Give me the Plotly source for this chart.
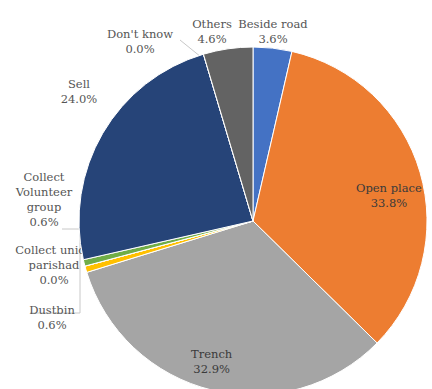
import plotly.graph_objects as go

# Waste disposal practice shares (%)
categories = ["Beside road", "Open place", "Trench", "Dustbin",
              "Collect union parishad", "Collect Volunteer group",
              "Sell", "Don't know", "Others"]
shares = [3.6, 33.8, 32.9, 0.6, 0.0, 0.6, 24.0, 0.0, 4.6]
label_names = ["Beside road", "Open place", "Trench", "Dustbin",
               "Collect union<br>parishad", "Collect<br>Volunteer<br>group",
               "Sell", "Don't know", "Others"]
slice_colors = ["#4472C4", "#ED7D31", "#A5A5A5", "#FFC000", "#5B9BD5",
                "#70AD47", "#264478", "#9E480E", "#636363"]

# Page geometry (pixels)
W, H = 432, 395
CX, CY, R = 253, 221, 174

# Label anchor points (pixel coordinates, centre of each text block)
label_pos = {
    "Beside road": (273, 33),
    "Open place": (389, 195),
    "Trench": (212, 361),
    "Dustbin": (52, 319),
    "Collect union parishad": (54, 266),
    "Collect Volunteer group": (44, 201),
    "Sell": (79, 93),
    "Don't know": (140, 43),
    "Others": (212, 33),
}
inside_labels = {"Open place", "Trench"}

FONT = "DejaVu Serif"
OUT_COLOR = "#555555"
IN_COLOR = "#3a3a3a"
FS = 11.5

fig = go.Figure()

# Leader lines (drawn beneath the pie)
leaders = [
    [(180, 40), (201, 57)],
    [(62, 229), (80, 229), (80, 313), (30, 313)],
]
for seg in leaders:
    fig.add_trace(go.Scatter(
        x=[p[0] for p in seg], y=[p[1] for p in seg], mode="lines",
        line=dict(color="#c8c8c8", width=1), hoverinfo="skip",
        xaxis="x", yaxis="y"))

# Outside labels sit under the pie layer so the pie overlaps them
for name, text, val in zip(categories, label_names, shares):
    if name in inside_labels:
        continue
    x, y = label_pos[name]
    fig.add_trace(go.Scatter(
        x=[x], y=[y], mode="text", text=[f"{text}<br>{val:.1f}%"],
        textposition="middle center",
        textfont=dict(family=FONT, size=FS, color=OUT_COLOR),
        hoverinfo="skip", xaxis="x", yaxis="y"))

fig.add_trace(go.Pie(
    labels=categories, values=shares, sort=False,
    direction="clockwise", rotation=0,
    marker=dict(colors=slice_colors, line=dict(color="white", width=1)),
    textinfo="none", hoverinfo="skip",
    domain=dict(x=[(CX - R) / W, (CX + R) / W],
                y=[(H - (CY + R)) / H, (H - (CY - R)) / H]),
))

# Labels printed on top of their slices
for name, text, val in zip(categories, label_names, shares):
    if name not in inside_labels:
        continue
    x, y = label_pos[name]
    fig.add_annotation(
        x=x, y=y, xref="x", yref="y", showarrow=False,
        text=f"{text}<br>{val:.1f}%",
        font=dict(family=FONT, size=FS, color=IN_COLOR),
        xanchor="center", yanchor="middle")

fig.update_layout(
    width=W, height=H,
    margin=dict(l=0, r=0, t=0, b=0, pad=0),
    paper_bgcolor="white", plot_bgcolor="white",
    showlegend=False,
    font=dict(family=FONT),
    xaxis=dict(range=[0, W], visible=False, fixedrange=True),
    yaxis=dict(range=[H, 0], visible=False, fixedrange=True),
)

fig.write_html(
    "out.html",
    post_script="document.body.style.margin='0';"
                "document.body.style.overflow='hidden';"
                "document.documentElement.style.overflow='hidden';",
)
